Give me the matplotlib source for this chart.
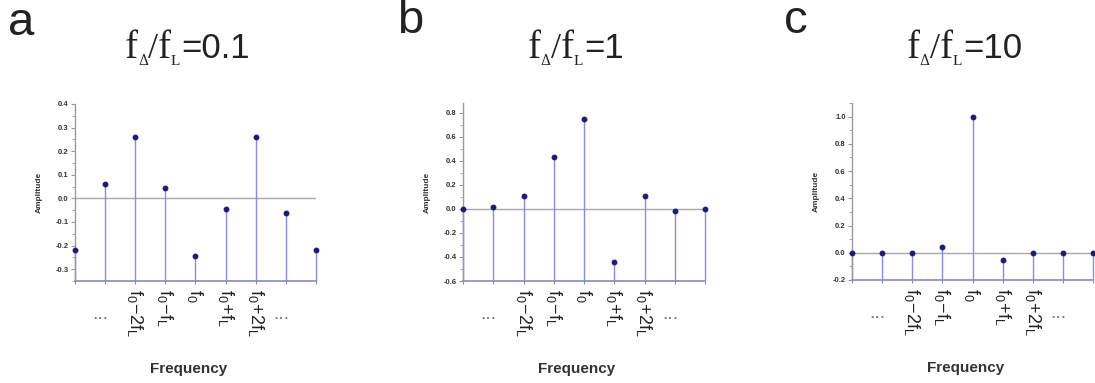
import matplotlib
matplotlib.use('Agg')
import matplotlib.pyplot as plt
from matplotlib.ticker import MultipleLocator, FormatStrFormatter
from matplotlib.transforms import blended_transform_factory, IdentityTransform

plt.rcParams['font.family'] = ['Liberation Sans', 'DejaVu Sans']
plt.rcParams['axes.unicode_minus'] = False

# sideband index (9 lines around the carrier)
positions = [0, 1, 2, 3, 4, 5, 6, 7, 8]
tick_labels = ['', '', r'$\mathregular{f_0\!-\!2f_L}$', r'$\mathregular{f_0\!-\!f_L}$',
               r'$\mathregular{f_0}$', r'$\mathregular{f_0\!+\!f_L}$',
               r'$\mathregular{f_0\!+\!2f_L}$', '', '']
dots_pos = [1, 7]

amp_a = [-0.22, 0.06, 0.26, 0.045, -0.245, -0.045, 0.26, -0.06, -0.22]
amp_b = [0.0, 0.02, 0.11, 0.43, 0.75, -0.44, 0.11, -0.02, 0.0]
amp_c = [0.0, 0.0, 0.0, 0.045, 1.0, -0.05, 0.0, 0.0, 0.0]

ratios = ['0.1', '1', '10']
letters = ['a', 'b', 'c']

W, H = 1095, 383
fig = plt.figure(figsize=(W / 100, H / 100), dpi=100)
renderer = fig.canvas.get_renderer()

# panel geometry in pixels: left, right, top, bottom ; ylim ; tick steps
panels = [
    (75, 316, 104, 281, (-0.35, 0.4), 0.1, 0.05, amp_a),
    (463, 705, 103, 281, (-0.6, 0.883), 0.2, 0.1, amp_b),
    (852, 1093, 103, 280, (-0.2, 1.10), 0.2, 0.1, amp_c),
]

stem_col = '#8c8ce6'
dot_col = '#1c1c7a'
grey = '#9a9a9a'
ink = '#222222'


def rich_title(cx, base_y, ratio):
    # f_Δ/f_L in a serif face with tiny subscripts, then "=ratio" in sans
    parts = [('f', 28, 'Liberation Serif', 0, 0), ('Δ', 10, 'DejaVu Serif', -7, 0),
             ('/', 26, 'Liberation Serif', 0, 0), ('f', 28, 'Liberation Serif', 0, 0),
             ('L', 11, 'Liberation Serif', -7, 0), ('=' + ratio, 25, 'Liberation Sans', 0, 1)]
    items, cur = [], 0.0
    for s, fs, fam, dy, dx in parts:
        t = fig.text(0, 0, s, fontsize=fs, family=fam, color=ink,
                     ha='left', va='baseline', transform=IdentityTransform())
        w = t.get_window_extent(renderer).width
        items.append((t, cur + dx, dy))
        cur += w + dx
    x0 = cx - cur / 2
    for t, off, dy in items:
        t.set_position((x0 + off, H - base_y + dy))


for i, (l, r, t, b, ylim, major, minor, amp) in enumerate(panels):
    ax = fig.add_axes([l / W, (H - b) / H, (r - l) / W, (b - t) / H])
    ax.set_xlim(0, 8)
    ax.set_ylim(*ylim)
    ax.axhline(0, color='#a8a8a8', lw=1.0, zorder=1)
    ax.vlines(positions, ylim[0], amp, color=stem_col, lw=1.0, zorder=2, clip_on=False)
    ax.plot(positions, amp, 'o', ms=3.2, color=dot_col, zorder=3, clip_on=False)

    for s in ['top', 'right']:
        ax.spines[s].set_visible(False)
    ax.spines['left'].set_color(grey)
    ax.spines['bottom'].set_color('#8a8ab4')
    ax.spines['left'].set_linewidth(1.0)
    ax.spines['bottom'].set_linewidth(1.2)

    ax.yaxis.set_major_locator(MultipleLocator(major))
    ax.yaxis.set_minor_locator(MultipleLocator(minor))
    ax.yaxis.set_major_formatter(FormatStrFormatter('%.1f'))
    ax.tick_params(axis='y', which='major', length=3, width=0.8, color=grey,
                   labelsize=5.5, labelcolor='#333333', pad=1.5)
    ax.tick_params(axis='y', which='minor', length=2, width=0.6, color=grey)
    for lab in ax.get_yticklabels():
        lab.set_fontweight('bold')

    ax.set_xticks(positions)
    ax.set_xticklabels(tick_labels, rotation=-90, fontsize=13, color=ink)
    ax.tick_params(axis='x', length=2.5, width=0.8, color='#8a8ab4', pad=3)

    trans = blended_transform_factory(ax.transData, ax.transAxes)
    for p in dots_pos:
        ax.text(p - 0.15, -0.19, '...', transform=trans, ha='center', va='center',
                fontsize=14, color='#777777')

    ax.set_ylabel('Amplitude', fontsize=6, fontweight='bold', color='#333333', labelpad=9)
    ax.set_xlabel('Frequency', fontsize=11, fontweight='bold', color='#333333')
    ax.xaxis.set_label_coords(0.47, -0.455)

    rich_title((l + r) / 2 - 8, 58, ratios[i])

fig.text(8 / W, (H - 35) / H, 'a', fontsize=34, ha='left', va='baseline', color=ink)
fig.text(397 / W, (H - 33) / H, 'b', fontsize=34, ha='left', va='baseline', color=ink)
fig.text(784 / W, (H - 33) / H, 'c', fontsize=34, ha='left', va='baseline', color=ink)

fig.savefig('out.png', dpi=100)
plt.close(fig)
